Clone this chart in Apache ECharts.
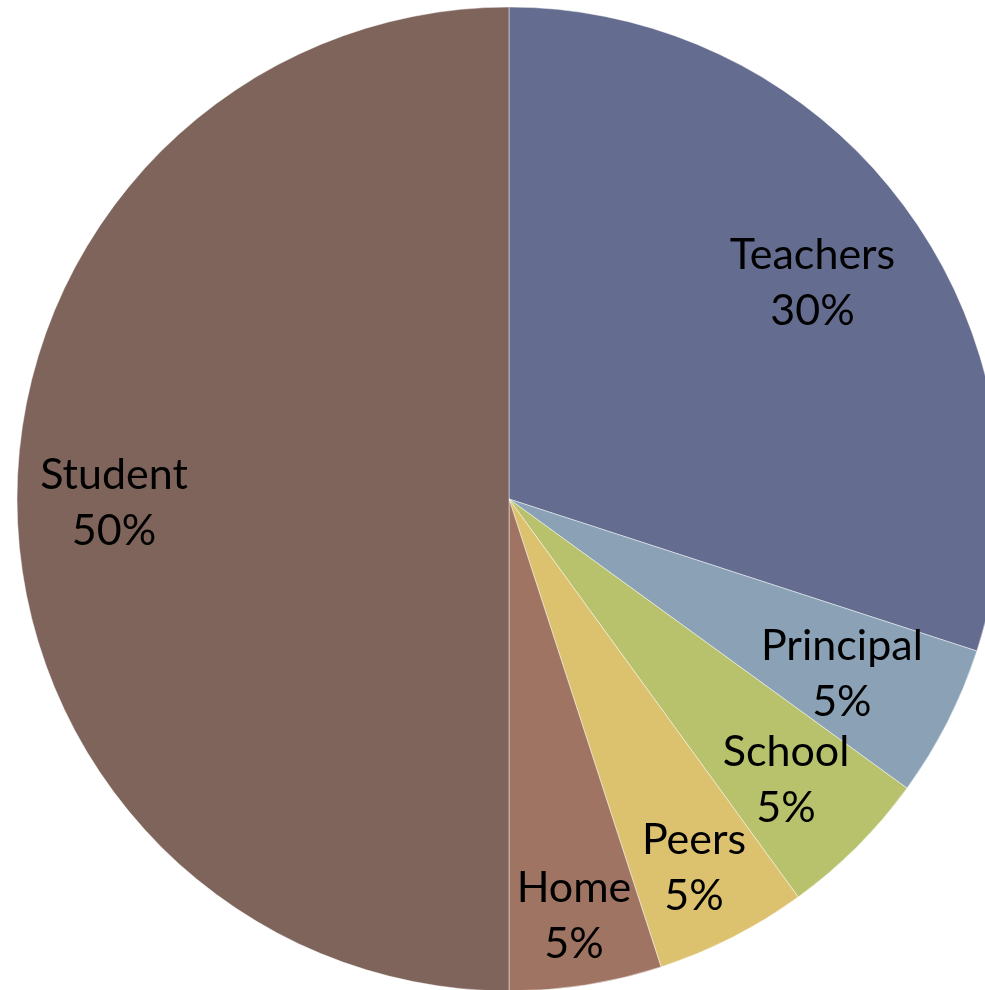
<!DOCTYPE html>
<html>
<head>
<meta charset="utf-8">
<script src="https://cdn.jsdelivr.net/npm/echarts@6/dist/echarts.min.js"></script>
<style>html,body{margin:0;padding:0;background:#fff}#c{width:985px;height:990px}</style>
</head>
<body>
<div id="c"></div>
<script>
const categories = ["Teachers", "Principal", "School", "Peers", "Home", "Student"];
const values = [30, 5, 5, 5, 5, 50];
const colors = ["#646c8f", "#8ba2b6", "#b8c16c", "#dcc16e", "#a07462", "#7f645b"];
const labelShift = [[102, -70], [111, 62], [101, 105], [72, 147], [26, 171], [-146, 4]];

const chart = echarts.init(document.getElementById('c'), null, {renderer: 'canvas'});
chart.setOption({
  animation: false,
  series: [{
    type: 'pie',
    center: [509, 499],
    radius: 492,
    startAngle: 90,
    clockwise: true,
    avoidLabelOverlap: false,
    itemStyle: {borderColor: 'rgba(255,255,255,0.45)', borderWidth: 1},
    label: {
      show: true,
      position: 'inside',
      formatter: p => p.name + '\n' + p.value + '%',
      fontFamily: 'Lato',
      fontSize: 43,
      lineHeight: 56,
      color: '#000',
      align: 'center'
    },
    labelLine: {show: false},
    emphasis: {disabled: true},
    labelLayout: function (p) {
      const s = labelShift[p.dataIndex];
      return {dx: s[0], dy: s[1]};
    },
    data: categories.map((c, i) => ({name: c, value: values[i], itemStyle: {color: colors[i]}}))
  }]
});
</script>
</body>
</html>
